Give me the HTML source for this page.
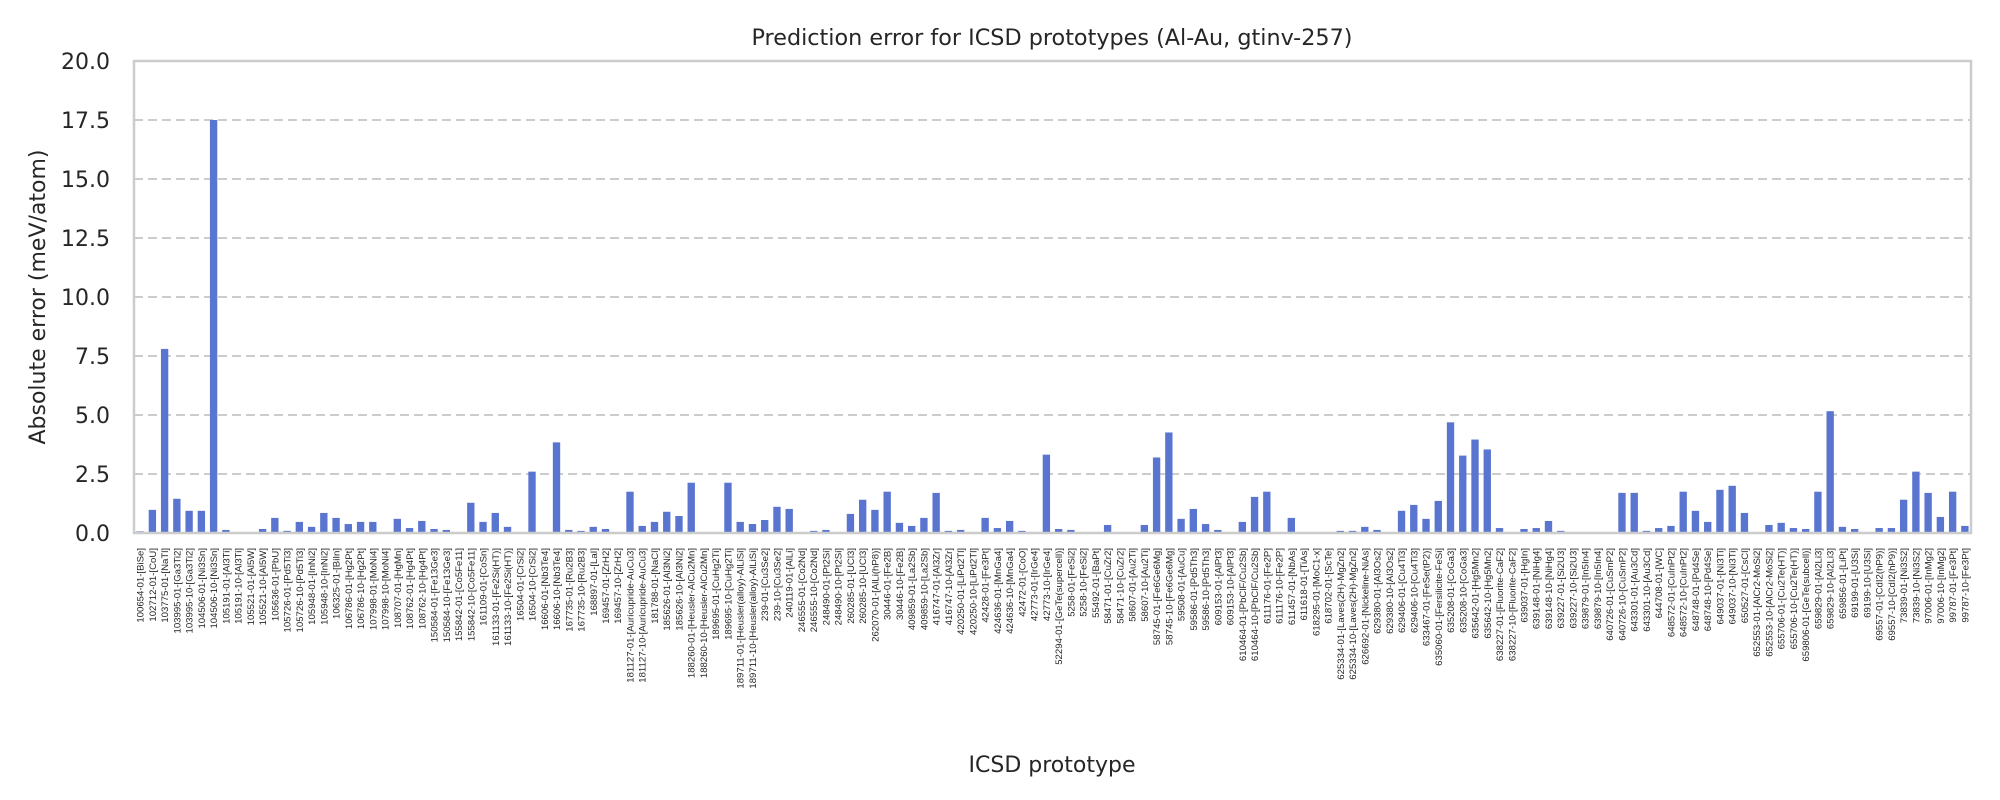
<!DOCTYPE html>
<html><head><meta charset="utf-8"><style>
html,body{margin:0;padding:0;background:#fff;}
svg{display:block;font-family:"DejaVu Sans","Liberation Sans",sans-serif;}
</style></head><body>
<svg id="chart" width="2000" height="800" viewBox="0 0 2000 800" xmlns="http://www.w3.org/2000/svg">
<text x="1052" y="45" font-size="22.3" text-anchor="middle" fill="#262626">Prediction error for ICSD prototypes (Al-Au, gtinv-257)</text>
<text transform="translate(45,297) rotate(-90)" font-size="22" text-anchor="middle" fill="#262626">Absolute error (meV/atom)</text>
<text x="1052" y="772" font-size="22" text-anchor="middle" fill="#262626">ICSD prototype</text>
<g id="grid"></g>
<g id="bars"></g>
<g id="yticks"></g>
<g id="xticks"></g>
<rect x="134" y="61" width="1837" height="472" fill="none" stroke="#cccccc" stroke-width="2.5"/>
</svg>
<script>
const categories = ["100654-01-[BiSe]","102712-01-[CoU]","103775-01-[NaTl]","103995-01-[Ga3Ti2]","103995-10-[Ga3Ti2]","104506-01-[Ni3Sn]","104506-10-[Ni3Sn]","105191-01-[Al3Ti]","105191-10-[Al3Ti]","105521-01-[Al5W]","105521-10-[Al5W]","105636-01-[PbU]","105726-01-[Pd5Ti3]","105726-10-[Pd5Ti3]","105948-01-[InNi2]","105948-10-[InNi2]","106325-01-[BiIn]","106786-01-[Hg2Pt]","106786-10-[Hg2Pt]","107998-01-[MoNi4]","107998-10-[MoNi4]","108707-01-[HgMn]","108762-01-[Hg4Pt]","108762-10-[Hg4Pt]","150584-01-[Fe13Ge3]","150584-10-[Fe13Ge3]","155842-01-[Co5Fe11]","155842-10-[Co5Fe11]","161109-01-[CoSn]","161133-01-[Fe2Si(HT)]","161133-10-[Fe2Si(HT)]","16504-01-[CrSi2]","16504-10-[CrSi2]","16606-01-[Nb3Te4]","16606-10-[Nb3Te4]","167735-01-[Ru2B3]","167735-10-[Ru2B3]","168897-01-[LaI]","169457-01-[ZrH2]","169457-10-[ZrH2]","181127-01-[Auricupride-AuCu3]","181127-10-[Auricupride-AuCu3]","181788-01-[NaCl]","185626-01-[Al3Ni2]","185626-10-[Al3Ni2]","188260-01-[Heusler-AlCu2Mn]","188260-10-[Heusler-AlCu2Mn]","189695-01-[CuHg2Ti]","189695-10-[CuHg2Ti]","189711-01-[Heusler(alloy)-AlLiSi]","189711-10-[Heusler(alloy)-AlLiSi]","239-01-[Cu3Se2]","239-10-[Cu3Se2]","240119-01-[AlLi]","246555-01-[Co2Nd]","246555-10-[Co2Nd]","248490-01-[Pt2Si]","248490-10-[Pt2Si]","260285-01-[UCl3]","260285-10-[UCl3]","262070-01-[AlLi(hP8)]","30446-01-[Fe2B]","30446-10-[Fe2B]","409859-01-[La2Sb]","409859-10-[La2Sb]","416747-01-[Al3Zr]","416747-10-[Al3Zr]","420250-01-[LiPd2Tl]","420250-10-[LiPd2Tl]","42428-01-[Fe3Pt]","424636-01-[MnGa4]","424636-10-[MnGa4]","42472-01-[CoO]","42773-01-[IrGe4]","42773-10-[IrGe4]","52294-01-[GeTe(supercell)]","5258-01-[FeSi2]","5258-10-[FeSi2]","55492-01-[BaPt]","58471-01-[CuZr2]","58471-10-[CuZr2]","58607-01-[Au2Ti]","58607-10-[Au2Ti]","58745-01-[Fe6Ge6Mg]","58745-10-[Fe6Ge6Mg]","59508-01-[AuCu]","59586-01-[Pd5Th3]","59586-10-[Pd5Th3]","609153-01-[AlPt3]","609153-10-[AlPt3]","610464-01-[PbClF/Cu2Sb]","610464-10-[PbClF/Cu2Sb]","611176-01-[Fe2P]","611176-10-[Fe2P]","611457-01-[NbAs]","611618-01-[TiAs]","618295-01-[MoC1-x]","618702-01-[ScTe]","625334-01-[Laves(2H)-MgZn2]","625334-10-[Laves(2H)-MgZn2]","626692-01-[Nickeline-NiAs]","629380-01-[Al3Os2]","629380-10-[Al3Os2]","629406-01-[Cu4Ti3]","629406-10-[Cu4Ti3]","633467-01-[FeSe(tP2)]","635060-01-[Fersilicite-FeSi]","635208-01-[CoGa3]","635208-10-[CoGa3]","635642-01-[Hg5Mn2]","635642-10-[Hg5Mn2]","638227-01-[Fluorite-CaF2]","638227-10-[Fluorite-CaF2]","639037-01-[HgIn]","639148-01-[NiHg4]","639148-10-[NiHg4]","639227-01-[Si2U3]","639227-10-[Si2U3]","639879-01-[In5In4]","639879-10-[In5In4]","640726-01-[CuSmP2]","640726-10-[CuSmP2]","643301-01-[Au3Cd]","643301-10-[Au3Cd]","644708-01-[WC]","648572-01-[CuInPt2]","648572-10-[CuInPt2]","648748-01-[Pd4Se]","648748-10-[Pd4Se]","649037-01-[Ni3Ti]","649037-10-[Ni3Ti]","650527-01-[CsCl]","652553-01-[AlCr2-MoSi2]","652553-10-[AlCr2-MoSi2]","655706-01-[Cu2Te(HT)]","655706-10-[Cu2Te(HT)]","659806-01-[GeTe(subcell)]","659829-01-[Al2Li3]","659829-10-[Al2Li3]","659856-01-[LiPt]","69199-01-[U3Si]","69199-10-[U3Si]","69557-01-[CdI2(hP9)]","69557-10-[CdI2(hP9)]","73839-01-[Ni3S2]","73839-10-[Ni3S2]","97006-01-[InMg2]","97006-10-[InMg2]","99787-01-[Fe3Pt]","99787-10-[Fe3Pt]"];
const errors = [0.07,0.98,7.8,1.45,0.94,0.94,17.5,0.13,0,0,
0.17,0.64,0.09,0.47,0.26,0.85,0.64,0.38,0.47,0.47,
0,0.6,0.21,0.51,0.17,0.13,0.04,1.28,0.47,0.85,
0.26,0,2.6,0,3.84,0.13,0.09,0.26,0.17,0,
1.75,0.3,0.47,0.9,0.72,2.13,0,0,2.13,0.47,
0.38,0.55,1.11,1.02,0,0.09,0.13,0,0.81,1.41,
0.98,1.75,0.43,0.3,0.64,1.7,0.09,0.13,0,0.64,
0.21,0.51,0.09,0.04,3.32,0.17,0.13,0,0.04,0.34,
0,0,0.34,3.2,4.26,0.6,1.02,0.38,0.13,0,
0.47,1.53,1.75,0,0.64,0.04,0,0.04,0.09,0.09,
0.26,0.13,0,0.94,1.19,0.6,1.36,4.69,3.28,3.96,
3.54,0.21,0.04,0.17,0.21,0.51,0.09,0.04,0.04,0,
0.04,1.7,1.7,0.09,0.21,0.3,1.75,0.94,0.47,1.83,
2.0,0.85,0,0.34,0.43,0.21,0.17,1.75,5.16,0.26,
0.17,0,0.21,0.21,1.41,2.6,1.7,0.68,1.75,0.3];
const yTickValues = [0,2.5,5,7.5,10,12.5,15,17.5,20];
const yTickLabels = ["0.0","2.5","5.0","7.5","10.0","12.5","15.0","17.5","20.0"];

const NS="http://www.w3.org/2000/svg";
const PL=134, PR=1971, PT=61, PB=533, YMAX=20;
const n=categories.length;
const step=(PR-PL)/n;
function xScale(i){return PL+step*(i+0.5);}
function yScale(v){return PB-(v/YMAX)*(PB-PT);}
function mk(tag,attrs){const e=document.createElementNS(NS,tag);for(const k in attrs)e.setAttribute(k,attrs[k]);return e;}

const grid=document.getElementById('grid');
const yt=document.getElementById('yticks');
yTickValues.forEach((v,k)=>{
  const y=yScale(v);
  if(v>0&&v<YMAX){
    const l=mk('line',{x1:PL,x2:PR,y1:y,y2:y,stroke:'#cccccc','stroke-width':2,'stroke-dasharray':'9,5'});
    
    
    grid.appendChild(l);
  }
  const t=mk('text',{x:PL-24,y:y+8,'font-size':22,'text-anchor':'end',fill:'#262626'});
  
  
  t.textContent=yTickLabels[k];
  yt.appendChild(t);
});

const bars=document.getElementById('bars');
const xt=document.getElementById('xticks');
errors.forEach((v,i)=>{
  const x=xScale(i), w=step*0.6;
  const r=mk('rect',{x:x-w/2,y:yScale(v),width:w,height:PB-yScale(v),fill:'#5975cf'});
  
  
  bars.appendChild(r);
});
categories.forEach((c,i)=>{
  const x=xScale(i);
  const t=mk('text',{transform:'translate('+(x+3.5)+',548) rotate(-90)','font-size':9.6,'text-anchor':'end',fill:'#262626','font-family':'Liberation Sans, sans-serif'});
  
  
  t.textContent=c;
  xt.appendChild(t);
});
</script>
</body></html>
